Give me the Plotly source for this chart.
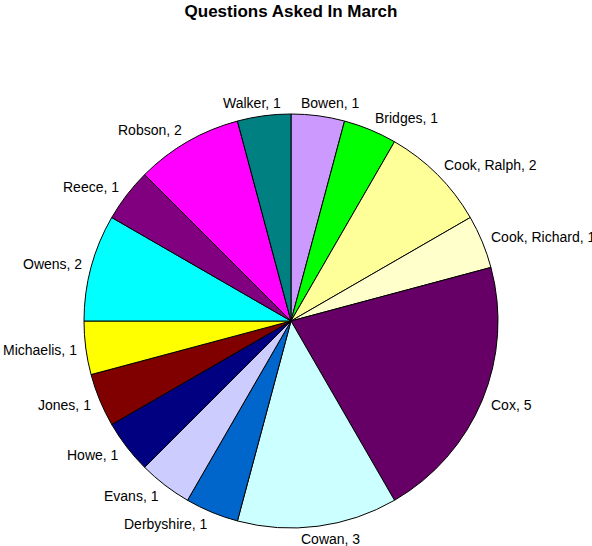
import math
import plotly.graph_objects as go

# Questions asked per member in March
names = ["Bowen", "Bridges", "Cook, Ralph", "Cook, Richard", "Cox", "Cowan",
         "Derbyshire", "Evans", "Howe", "Jones", "Michaelis", "Owens",
         "Reece", "Robson", "Walker"]
questions = [1, 1, 2, 1, 5, 3, 1, 1, 1, 1, 1, 2, 1, 2, 1]
colors = ["#CC99FF", "#00FF00", "#FFFF99", "#FFFFCC", "#660066", "#CCFFFF",
          "#0066CC", "#CCCCFF", "#000080", "#800000", "#FFFF00", "#00FFFF",
          "#800080", "#FF00FF", "#008080"]

W, H = 592, 546
# pie placement in pixels (centre and radius)
cx, cy, R = 291, 321, 207
dom_x = [(cx - R) / W, (cx + R) / W]
dom_y = [1 - (cy + R) / H, 1 - (cy - R) / H]

fig = go.Figure(go.Pie(
    labels=names,
    values=questions,
    sort=False,
    direction="clockwise",
    rotation=0,
    marker=dict(colors=colors, line=dict(color="#000000", width=1)),
    textinfo="none",
    hoverinfo="label+value",
    domain=dict(x=dom_x, y=dom_y),
    showlegend=False,
))

# "Name, value" labels placed just outside each slice's mid angle
total = sum(questions)
label_r = R + 7
annotations = []
cum = 0
for name, val in zip(names, questions):
    mid = (cum + val / 2) / total * 2 * math.pi
    cum += val
    s, c = math.sin(mid), math.cos(mid)
    px = cx + label_r * s
    py = cy - label_r * c
    xshift = 0
    if s > 0.26:
        xa = "left"
    elif s < -0.26:
        xa = "right"
    else:
        xa = "center"
        xshift = 85 * s
    annotations.append(dict(
        x=px / W, y=1 - py / H, xref="paper", yref="paper",
        text=f"{name}, {val}", showarrow=False,
        xanchor=xa, yanchor="middle", xshift=xshift, yshift=6 * c,
        font=dict(family="Liberation Sans, Arial, sans-serif", size=14, color="#000000"),
    ))

fig.update_layout(
    width=W, height=H,
    margin=dict(l=0, r=0, t=0, b=0),
    paper_bgcolor="#FFFFFF",
    plot_bgcolor="#FFFFFF",
    title=dict(
        text="<b>Questions Asked In March</b>",
        x=291 / W, xanchor="center", y=1 - 11 / H, yanchor="middle",
        font=dict(family="Liberation Sans, Arial, sans-serif", size=17, color="#000000"),
    ),
    annotations=annotations,
)

fig.write_html("out.html")
